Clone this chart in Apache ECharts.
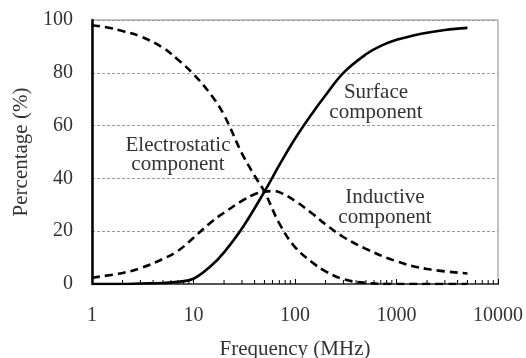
<!DOCTYPE html>
<html>
<head>
<meta charset="utf-8">
<script src="https://cdn.jsdelivr.net/npm/echarts@6/dist/echarts.min.js"></script>
<style>
  html, body { margin: 0; padding: 0; background: #fff; }
  #chart { width: 526px; height: 358px; }
</style>
</head>
<body>
<div id="chart"></div>
<script>
// Frequency samples (MHz) and component percentages
const freqES = [1, 1.5, 2, 3, 5, 7, 10, 15, 20, 30, 40, 50, 70, 100, 150, 200, 300, 500, 1000, 2000, 5000];
const electrostatic = [98, 97, 95.8, 93.8, 89.5, 85, 79.5, 71.5, 64, 49.5, 41, 35, 23, 14, 8, 4.8, 1.8, 0.4, 0, 0, 0];

const freqIN = [1, 2, 3, 5, 7, 10, 15, 20, 30, 40, 50, 60, 70, 100, 150, 200, 300, 500, 1000, 2000, 5000];
const inductive = [2.4, 4.2, 6, 9.5, 12.5, 17.5, 23.5, 27, 31.5, 34, 35, 35.2, 34.8, 31.5, 26.5, 22.6, 17.8, 13.3, 8.6, 5.7, 4];

const freqSF = [1, 1.5, 2, 3, 5, 7, 10, 15, 20, 30, 50, 70, 100, 150, 200, 300, 500, 700, 1000, 1500, 2000, 3000, 5000];
const surface = [0, 0, 0, 0.2, 0.4, 0.8, 2, 7, 12, 21, 35, 45, 55, 65, 71.5, 80, 87, 90.2, 92.5, 94.2, 95.2, 96.2, 97];

const xTicks = [1, 10, 100, 1000, 10000];
const yTicks = [0, 20, 40, 60, 80, 100];
const minorFreq = [2, 3, 4, 5, 6, 7, 8, 9, 20, 30, 40, 50, 60, 70, 80, 90,
                   200, 300, 400, 500, 600, 700, 800, 900, 2000, 3000, 4000, 5000, 6000, 7000, 8000, 9000];

const FONT = '"Liberation Serif", "Times New Roman", serif';
const TXT = '#333';

const pairs = (xs, ys) => xs.map((x, i) => [x, ys[i]]);

const chart = echarts.init(document.getElementById('chart'), null, { renderer: 'canvas' });

const lineSeries = (name, xs, ys, dashed) => ({
  name, type: 'line', data: pairs(xs, ys), smooth: 0.4,
  showSymbol: false, symbol: 'none',
  lineStyle: { color: '#000', width: 2.6, type: dashed ? [8, 5] : 'solid', cap: 'butt' },
  z: 3
});

chart.setOption({
  animation: false,
  backgroundColor: '#fff',
  grid: { left: 92, right: 28, top: 20, bottom: 74, containLabel: false, outerBoundsMode: 'none',
          show: true, borderColor: '#888', borderWidth: 1 },
  xAxis: [{
    type: 'log', logBase: 10, min: xTicks[0], max: xTicks[xTicks.length - 1],
    name: 'Frequency (MHz)', nameLocation: 'middle', nameGap: 55,
    nameTextStyle: { fontFamily: FONT, fontSize: 21, color: TXT },
    axisLine: { show: true, onZero: false, lineStyle: { color: '#000', width: 2 } },
    axisTick: { show: true, inside: true, length: 5, lineStyle: { color: '#000', width: 1 } },
    axisLabel: { fontFamily: FONT, fontSize: 20, color: TXT, margin: 22, formatter: v => String(v) },
    splitLine: { show: false }, minorTick: { show: false }
  }, {
    type: 'log', logBase: 10, min: xTicks[0], max: xTicks[xTicks.length - 1], position: 'top',
    axisLine: { show: true, lineStyle: { color: '#555', width: 2 } },
    axisTick: { show: false }, axisLabel: { show: false }, splitLine: { show: false }
  }],
  yAxis: {
    type: 'value', min: yTicks[0], max: yTicks[yTicks.length - 1], interval: 20,
    name: 'Percentage (%)', nameLocation: 'middle', nameGap: 52, nameRotate: 90,
    nameTextStyle: { fontFamily: FONT, fontSize: 21, color: TXT },
    axisLine: { show: true, lineStyle: { color: '#000', width: 2.5 } },
    axisTick: { show: false },
    axisLabel: { fontFamily: FONT, fontSize: 20, color: TXT, margin: 19 },
    splitLine: { show: true, lineStyle: { color: '#999', width: 1, type: [3, 2] } }
  },
  series: [
    lineSeries('Electrostatic component', freqES, electrostatic, true),
    lineSeries('Inductive component', freqIN, inductive, true),
    lineSeries('Surface component', freqSF, surface, false),
    {
      // minor decade ticks along the frequency axis
      type: 'custom', silent: true, z: 4,
      data: minorFreq.map(f => [f, 0]),
      renderItem: (params, api) => {
        const p = api.coord([api.value(0), 0]);
        return { type: 'line', shape: { x1: p[0], y1: p[1], x2: p[0], y2: p[1] - 4 },
                 style: { stroke: '#000', lineWidth: 1 } };
      }
    }
  ],
  graphic: [
    { type: 'text', x: 178, y: 155,
      style: { text: 'Electrostatic\ncomponent', font: '21px ' + FONT, fill: TXT, align: 'center', verticalAlign: 'middle', lineHeight: 19 } },
    { type: 'text', x: 376, y: 102,
      style: { text: 'Surface\ncomponent', font: '21px ' + FONT, fill: TXT, align: 'center', verticalAlign: 'middle', lineHeight: 20 } },
    { type: 'text', x: 385, y: 207,
      style: { text: 'Inductive\ncomponent', font: '21px ' + FONT, fill: TXT, align: 'center', verticalAlign: 'middle', lineHeight: 20 } }
  ]
});
</script>
</body>
</html>
